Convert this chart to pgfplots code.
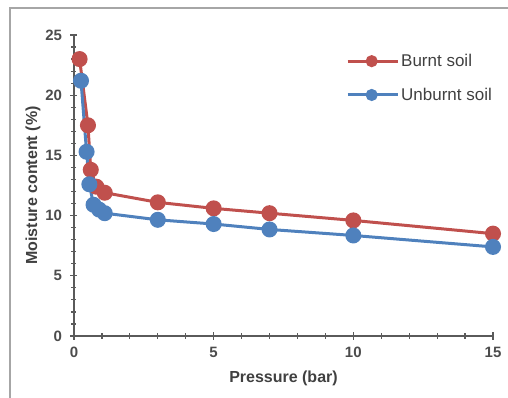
\documentclass[border=0pt]{standalone}
\usepackage{pgfplots}
\pgfplotsset{compat=1.18}
\usepackage{fontspec}
\setmainfont{Liberation Sans}
\definecolor{burnt}{RGB}{192,80,77}
\definecolor{unburnt}{RGB}{79,129,189}
\definecolor{axgray}{RGB}{90,90,90}
\begin{document}
\begin{tikzpicture}
\useasboundingbox (-74pt,-62pt) rectangle (434pt,336pt);
\draw[gray!70, line width=2pt] (-64pt,-62pt) -- (-64pt,328pt) -- (434pt,328pt);
\begin{axis}[
  at={(0pt,0pt)}, anchor=origin,
  scale only axis, width=419pt, height=301pt,
  xmin=0, xmax=15, ymin=0, ymax=25,
  axis lines=left, axis line style={axgray, line width=1.4pt, -},
  xtick={0,5,10,15}, ytick={0,5,10,15,20,25},
  minor x tick num=4, minor y tick num=4,
  tick align=center, major tick length=7pt, minor tick length=5pt,
  tick style={axgray, line width=1.2pt},
  /pgf/number format/assume math mode=true,
  tick label style={font=\fontsize{15}{17}\selectfont\bfseries, text=black!70},
  xticklabel style={yshift=-4pt},
  yticklabel style={xshift=-5pt},
  xlabel={\textbf{Pressure (bar)}},
  ylabel={\textbf{Moisture content (\%)}},
  label style={font=\fontsize{16}{18}\selectfont, text=black!75},
  xlabel style={yshift=-6pt},
  ylabel style={yshift=-2pt},
  legend style={draw=none, fill=none, at={(0.642,0.95)}, anchor=north west,
    font=\fontsize{17}{19}\selectfont, row sep=16pt, text=black!75},
  legend cell align=left,
  legend image code/.code={
    \draw[#1, mark=none] (0pt,0pt) -- (50pt,0pt);
    \draw[#1, only marks, mark size=4.5pt] plot coordinates {(24pt,0pt)};
  },
]
\addplot[burnt, line width=3pt, mark=*, mark size=6.5pt, mark options={burnt}] coordinates {
(0.2,23.0) (0.5,17.5) (0.6,13.8) (0.8,12.4) (1.1,11.9) (3,11.1) (5,10.6) (7,10.2) (10,9.6) (15,8.5)};
\addlegendentry{Burnt soil}
\addplot[unburnt, line width=3pt, mark=*, mark size=6.5pt, mark options={unburnt}] coordinates {
(0.25,21.2) (0.45,15.3) (0.55,12.6) (0.7,10.9) (0.9,10.5) (1.1,10.2) (3,9.65) (5,9.3) (7,8.85) (10,8.35) (15,7.4)};
\addlegendentry{Unburnt soil}
\end{axis}
\end{tikzpicture}
\end{document}
